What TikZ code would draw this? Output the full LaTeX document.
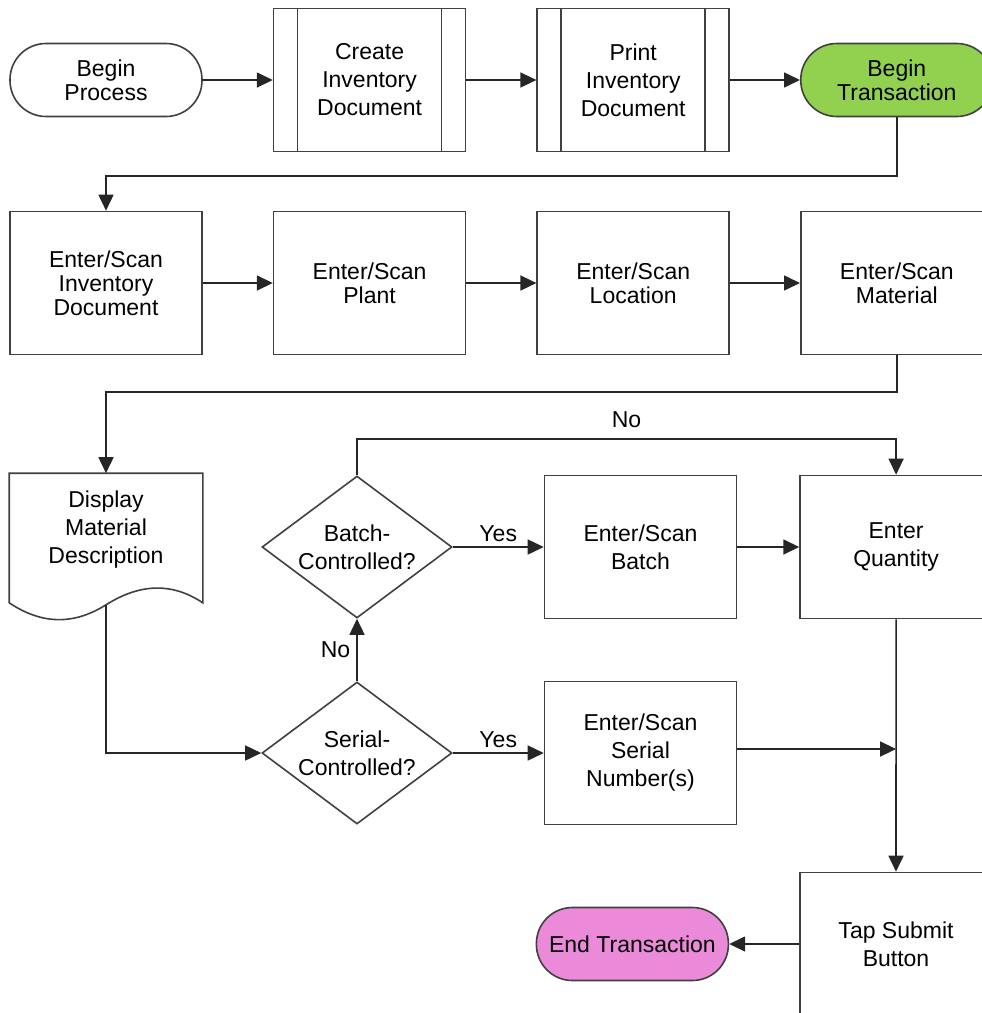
\documentclass[tikz,border=0pt]{standalone}
\usepackage{fontspec}
\setmainfont{Liberation Sans}
\usetikzlibrary{positioning,arrows.meta,shapes.geometric}

\definecolor{startgreen}{RGB}{146,208,80}
\definecolor{endpink}{RGB}{236,138,218}
\definecolor{edge}{RGB}{64,64,64}

\tikzset{
  base/.style={draw=edge, line width=1.6pt, align=center, inner sep=2pt,
    font=\fontsize{23}{28}\selectfont},
  tight/.style={font=\fontsize{23}{24}\selectfont},
  terminal/.style={base, minimum width=192pt, minimum height=73pt, rounded corners=36pt},
  stepbox/.style={base, minimum width=192pt, minimum height=143pt},
  predef/.style={stepbox, path picture={
      \draw[edge, line width=1.6pt] ([xshift=24pt]path picture bounding box.north west) -- ([xshift=24pt]path picture bounding box.south west);
      \draw[edge, line width=1.6pt] ([xshift=-24pt]path picture bounding box.north east) -- ([xshift=-24pt]path picture bounding box.south east);}},
  docshape/.style={base, draw=none, minimum width=192pt, minimum height=112pt},
  decision/.style={base, diamond, aspect=1.34, inner sep=0pt, minimum width=190pt, minimum height=142pt},
  flow/.style={line width=1.6pt, draw=black!85, -{Triangle[length=16pt,width=15pt]}},
  answer/.style={font=\fontsize{23}{28}\selectfont, inner sep=2pt}
}

\begin{document}
\begin{tikzpicture}[x=1pt, y=-1pt]
  \useasboundingbox (0,0) rectangle (982,1013);
  \clip (0,0) rectangle (982,1013);

  % top row
  \node[terminal, tight, fill=white] (begin) at (106,80) {Begin\\Process};
  \node[predef, right=70pt of begin] (create) {Create\\Inventory\\Document};
  \node[predef, right=70pt of create] (print) {Print\\Inventory\\Document};
  \node[terminal, tight, fill=startgreen, right=70pt of print] (begintx) {Begin\\Transaction};

  % scanning row
  \node[stepbox, tight] (scaninv) at (106,283) {Enter/Scan\\Inventory\\Document};
  \node[stepbox, tight, right=70pt of scaninv] (plant) {Enter/Scan\\Plant};
  \node[stepbox, tight, right=70pt of plant] (location) {Enter/Scan\\Location};
  \node[stepbox, tight, right=70pt of location] (material) {Enter/Scan\\Material};

  % display and checks
  \node[docshape] (disp) at (106,530) {Display\\Material\\Description};
  \coordinate (disp-wave) at ([yshift=-18pt]disp.south);
  \draw[edge, line width=1.6pt] (disp.north west) -- (disp.north east)
    -- ([yshift=-16pt]disp.south east) .. controls +(-30,-20) and +(35,-22) .. (disp-wave)
    .. controls +(-35,22) and +(30,20) .. ([yshift=-16pt]disp.south west) -- cycle;

  \node[decision] (batchq) at (357,547) {Batch-\\Controlled?};
  \node[stepbox] (batchbox) at (640.5,547) {Enter/Scan\\Batch};
  \node[stepbox, right=62pt of batchbox] (quantity) {Enter\\Quantity};

  \node[decision] (serialq) at (357,753) {Serial-\\Controlled?};
  \node[stepbox] (serialbox) at (640.5,753) {Enter/Scan\\Serial\\Number(s)};

  % finish
  \node[stepbox] (submit) at (896,944) {Tap Submit\\Button};
  \node[terminal, fill=endpink, left=70pt of submit] (endtx) {End Transaction};

  % connectors
  \draw[flow] (begin) -- (create);
  \draw[flow] (create) -- (print);
  \draw[flow] (print) -- (begintx);
  \draw[flow] (begintx.south) -- (begintx.south |- 0,176) -| (scaninv.north);
  \draw[flow] (scaninv) -- (plant);
  \draw[flow] (plant) -- (location);
  \draw[flow] (location) -- (material);
  \draw[flow] (material.south) -- (material.south |- 0,392) -| (disp.north);
  \draw[flow] (disp-wave) |- (serialq.west);
  \draw[flow] (serialq.north) -- node[answer, left=4pt] {No} (batchq.south);
  \draw[flow] (batchq.east) -- node[answer, above=2pt] {Yes} (batchbox.west);
  \draw[flow] (serialq.east) -- node[answer, above=2pt] {Yes} (serialbox.west);
  \draw[flow] (batchbox) -- (quantity);
  \draw[flow] (batchq.north) -- (batchq.north |- 0,439)
    -- node[answer, above=8pt] {No} (quantity.north |- 0,439) -- (quantity.north);
  \draw[flow] (quantity.south) -- (submit.north);
  \draw[flow] ([yshift=4pt]serialbox.east) -- ([yshift=4pt]serialbox.east -| quantity.south);
  \draw[flow] (submit.west) -- (endtx.east);
\end{tikzpicture}
\end{document}
